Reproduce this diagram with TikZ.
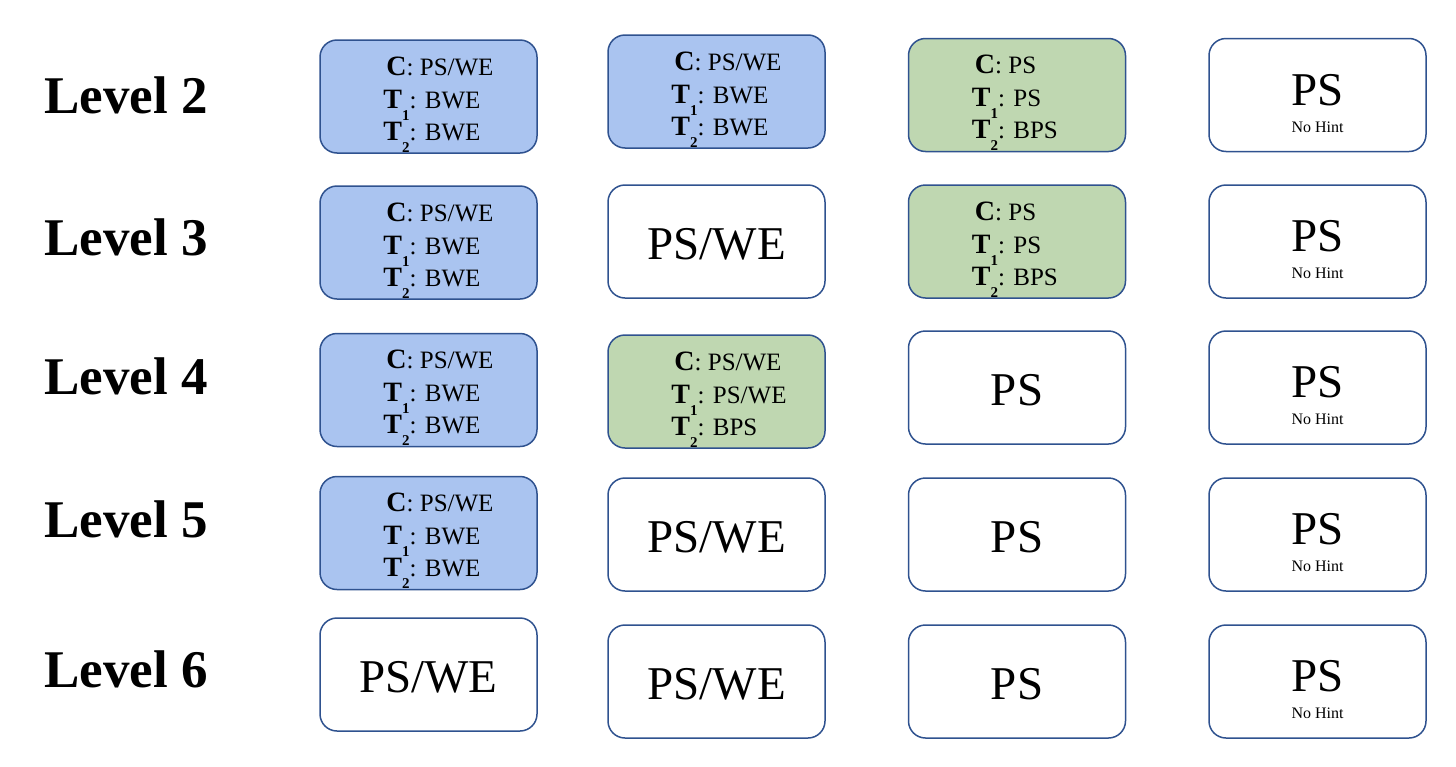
\documentclass[tikz,border=0pt]{standalone}
\usepackage{fontspec}
\setmainfont{Liberation Serif}
\definecolor{boxline}{RGB}{47,82,143}
\definecolor{cellblue}{RGB}{170,196,240}
\definecolor{cellgreen}{RGB}{191,215,177}
\newcommand{\Cb}{{\fontsize{28}{30}\selectfont\bfseries C}}
\newcommand{\Tb}[1]{{\fontsize{28}{30}\selectfont\bfseries T}\raisebox{-12pt}{\fontsize{15}{16}\selectfont\bfseries #1}}
\tikzset{
  cell/.style={draw=boxline, line width=1.5pt, rounded corners=17pt,
    minimum width=217pt, minimum height=113pt, inner sep=0pt},
  bluecell/.style={cell, fill=cellblue},
  greencell/.style={cell, fill=cellgreen},
  whitecell/.style={cell, fill=white},
  lvl/.style={anchor=base west, inner sep=0pt, font=\fontsize{53}{60}\selectfont\bfseries},
  ln/.style={anchor=base west, inner sep=0pt, font=\fontsize{25}{30}\selectfont},
  big/.style={anchor=base, inner sep=0pt, font=\fontsize{47}{50}\selectfont},
  hint/.style={anchor=base, inner sep=0pt, font=\fontsize{16}{18}\selectfont},
}
% triple-line cell: name, cx, cy, style, line1, line2, line3
\newcommand{\tricell}[7]{%
  \node[#4] (#1) at (#2,#3) {};
  \path (#1.west) ++(67,-21.5) node[ln] (#1-a) {\Cb: #5};
  \path (#1.west) ++(64,11.5) node[ln] (#1-b) {\Tb{1}: #6};
  \path (#1.west) ++(64,43.5) node[ln] (#1-c) {\Tb{2}: #7};
}
% single text cell
\newcommand{\onecell}[4]{%
  \node[whitecell] (#1) at (#2,#3) {};
  \path (#1.center) ++(0,17.5) node[big] (#1-t) {#4};
}
% PS / No Hint cell
\newcommand{\hintcell}[3]{%
  \node[whitecell] (#1) at (#2,#3) {};
  \path (#1.center) ++(0,10) node[big] (#1-t) {PS};
  \path (#1.center) ++(0,37) node[hint] (#1-h) {No Hint};
}
\begin{document}
\begin{tikzpicture}[x=1pt,y=-1pt]
\useasboundingbox (0,0) rectangle (1456,766);
% level labels
\node[lvl] (L2) at (44,113) {Level 2};
\node[lvl] (L3) at (44,255) {Level 3};
\node[lvl] (L4) at (44,394) {Level 4};
\node[lvl] (L5) at (44,537) {Level 5};
\node[lvl] (L6) at (44,687) {Level 6};
% row Level 2
\tricell{a2}{428.5}{96.5}{bluecell}{PS/WE}{BWE}{BWE}
\tricell{b2}{716.5}{91.5}{bluecell}{PS/WE}{BWE}{BWE}
\tricell{c2}{1017}{95}{greencell}{PS}{PS}{BPS}
\hintcell{d2}{1317.5}{95}
% row Level 3
\tricell{a3}{428.5}{242.5}{bluecell}{PS/WE}{BWE}{BWE}
\onecell{b3}{716.5}{241.5}{PS/WE}
\tricell{c3}{1017}{241.5}{greencell}{PS}{PS}{BPS}
\hintcell{d3}{1317.5}{241.5}
% row Level 4
\tricell{a4}{428.5}{390}{bluecell}{PS/WE}{BWE}{BWE}
\tricell{b4}{716.5}{391.5}{greencell}{PS/WE}{PS/WE}{BPS}
\onecell{c4}{1017}{387.5}{PS}
\hintcell{d4}{1317.5}{387.5}
% row Level 5
\tricell{a5}{428.5}{533}{bluecell}{PS/WE}{BWE}{BWE}
\onecell{b5}{716.5}{534.5}{PS/WE}
\onecell{c5}{1017}{534.5}{PS}
\hintcell{d5}{1317.5}{534.5}
% row Level 6
\onecell{a6}{428.5}{674.5}{PS/WE}
\onecell{b6}{716.5}{681.5}{PS/WE}
\onecell{c6}{1017}{681.5}{PS}
\hintcell{d6}{1317.5}{681.5}
\end{tikzpicture}
\end{document}
